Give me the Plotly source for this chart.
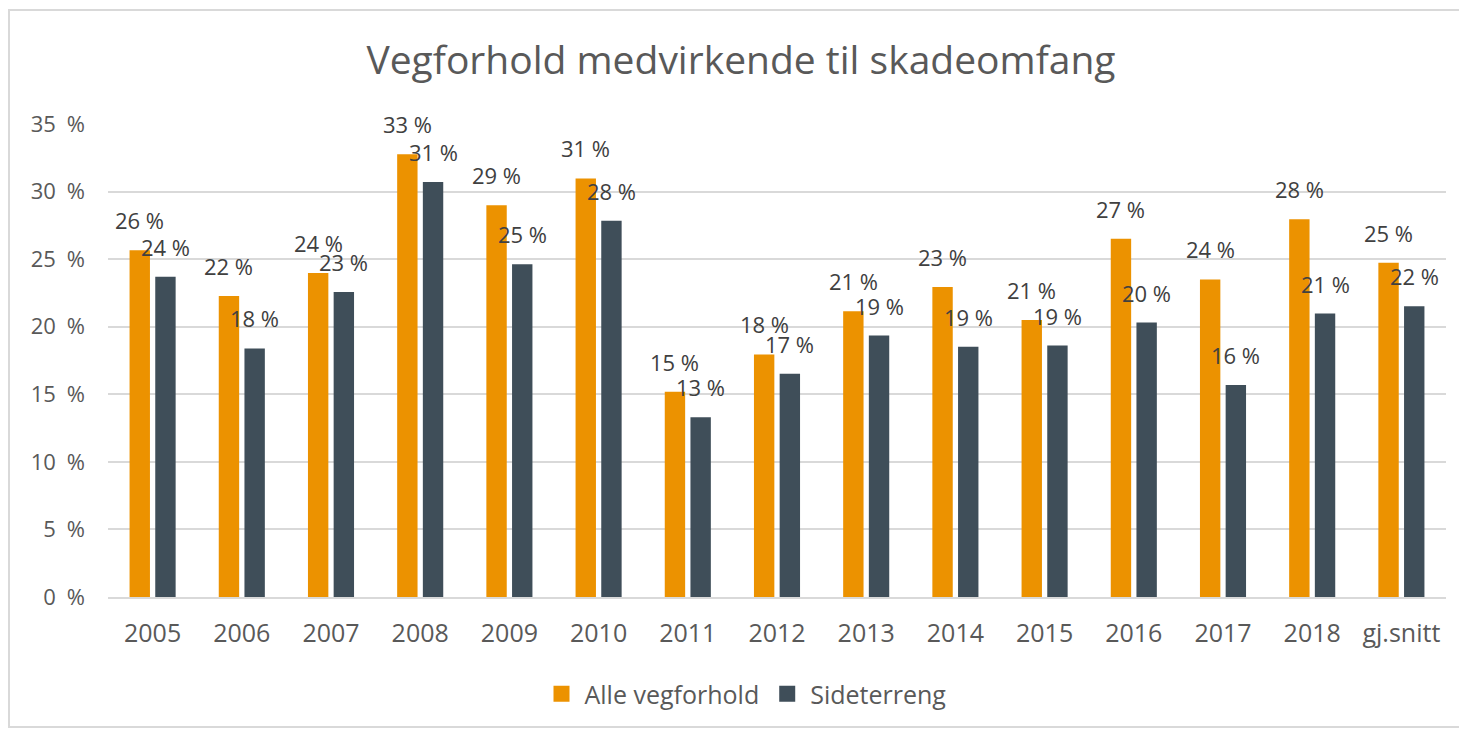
import math
import plotly.graph_objects as go

categories = ["2005", "2006", "2007", "2008", "2009", "2010", "2011", "2012",
              "2013", "2014", "2015", "2016", "2017", "2018", "gj.snitt"]
alle_vegforhold = [25.66, 22.27, 23.97, 32.77, 28.98, 30.97, 15.19, 17.95,
                   21.14, 22.94, 20.50, 26.50, 23.50, 27.95, 24.73]
sideterreng = [23.70, 18.39, 22.57, 30.70, 24.63, 27.85, 13.30, 16.52,
               19.35, 18.51, 18.61, 20.31, 15.69, 20.97, 21.51]
y_ticks = [0, 5, 10, 15, 20, 25, 30, 35]
series_names = ["Alle vegforhold", "Sideterreng"]

W, H = 1467, 729
OFF = 8  # default page body margin
ML, MR, MT, MB = 100, 29, 116, 140
PW, PH = W - ML - MR, H - MT - MB

ORANGE = "#EC9200"
DARK = "#3F4E59"
FONT = "Open Sans"


def lab(v):
    return f"{int(math.floor(v + 0.5))} %"


fig = go.Figure()
for name, vals, col in ((series_names[0], alle_vegforhold, ORANGE),
                        (series_names[1], sideterreng, DARK)):
    fig.add_trace(go.Bar(x=categories, y=vals, name=name, showlegend=False,
                         marker=dict(color=col, line=dict(width=0))))
# legend entries with larger square swatches
for name, col in ((series_names[0], ORANGE), (series_names[1], DARK)):
    fig.add_trace(go.Scatter(x=[None], y=[None], mode="markers", name=name,
                             marker=dict(symbol="square", size=16, color=col)))

bargap = 0.424
slot = PW / len(categories) * (1 - bargap) / 2
annotations = []
for series, sign in ((alle_vegforhold, -1), (sideterreng, 1)):
    for i, v in enumerate(series):
        annotations.append(dict(x=i, y=v, xref="x", yref="y", text=lab(v),
                                showarrow=False, xshift=sign * slot / 2, yshift=30,
                                font=dict(family=FONT, size=22, color="#404040")))


def px_x(p):
    return (p - OFF - ML) / PW


def px_y(p):
    return (H - MB - (p - OFF)) / PH


shapes = [dict(type="rect", xref="paper", yref="paper",
               x0=px_x(9), x1=px_x(1461), y0=px_y(727), y1=px_y(10),
               line=dict(color="#D9D9D9", width=2), fillcolor="rgba(0,0,0,0)",
               layer="below")]

fig.update_layout(
    width=W, height=H,
    margin=dict(l=ML, r=MR, t=MT, b=MB),
    paper_bgcolor="white", plot_bgcolor="white",
    barmode="group", bargap=bargap, bargroupgap=0.206,
    title=dict(text="Vegforhold medvirkende til skadeomfang", x=px_x(741), xanchor="center",
               xref="paper", y=1 - (60 - OFF) / H, yanchor="middle",
               font=dict(family=FONT, size=39, color="#595959")),
    font=dict(family=FONT, color="#595959"),
    xaxis=dict(type="category", range=[-0.5, len(categories) - 0.5],
               tickfont=dict(size=25, color="#595959"), showgrid=False,
               showline=True, linecolor="#D9D9D9", linewidth=2,
               ticks="", ticklabelstandoff=13),
    yaxis=dict(range=[0, 35], tickvals=y_ticks,
               ticktext=[f"{t}\u2002%" for t in y_ticks],
               tickfont=dict(size=22, color="#595959"), showgrid=True,
               gridcolor="#D9D9D9", gridwidth=2, zeroline=False, showline=False,
               ticks="", ticklabelstandoff=22),
    legend=dict(orientation="h", x=px_x(745), xanchor="center", y=px_y(694), yanchor="middle",
                font=dict(family=FONT, size=25, color="#595959"), itemwidth=36,
                traceorder="normal", itemsizing="trace"),
    annotations=annotations,
    shapes=shapes,
)

fig.write_html("out.html")
